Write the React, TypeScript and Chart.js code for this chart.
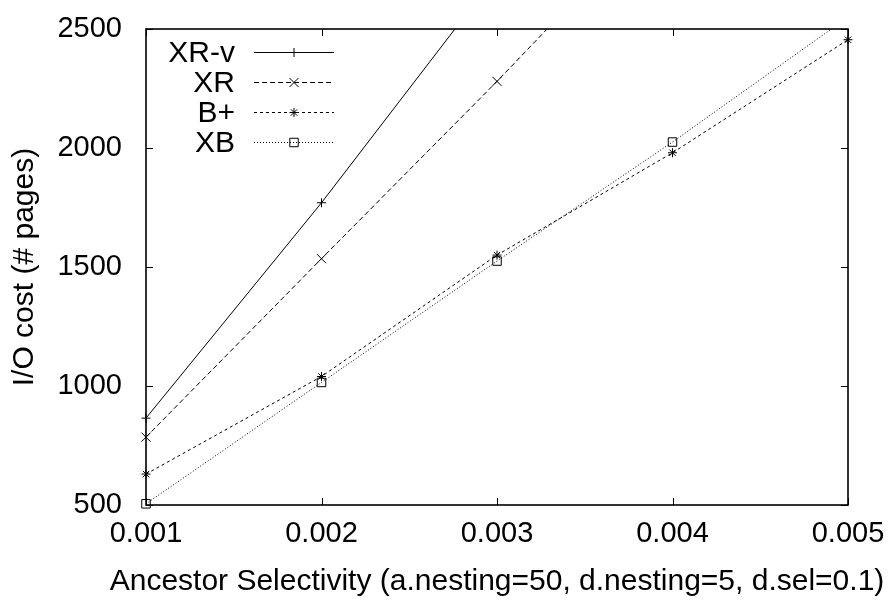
import React, { useEffect, useRef } from 'react';
import { Chart, registerables } from 'chart.js';
import { drawPoint } from 'chart.js/helpers';

Chart.register(...registerables);

// ---- data ----
const selectivity = [0.001, 0.002, 0.003, 0.004, 0.005];
const xTickLabels = ['0.001', '0.002', '0.003', '0.004', '0.005'];
const yTickValues = [500, 1000, 1500, 2000, 2500];
const seriesNames = ['XR-v', 'XR', 'B+', 'XB'];
const xrvCost = [865, 1770, 2730];
const xrCost = [785, 1535, 2280, 3050];
const bplusCost = [630, 1040, 1550, 1980, 2455];
const xbCost = [505, 1015, 1525, 2025, 2550];
const xTitle = 'Ancestor Selectivity (a.nesting=50, d.nesting=5, d.sel=0.1)';
const yTitle = 'I/O cost (# pages)';

const FONT = '"Liberation Sans", Arial, Helvetica, sans-serif';

const styles = [
  { dash: [], pointStyle: 'cross', radius: 4.5 },
  { dash: [5, 3], pointStyle: 'crossRot', radius: 6.4 },
  { dash: [3, 3], pointStyle: 'star', radius: 4.5 },
  { dash: [1, 2], pointStyle: 'rect', radius: 6 },
];

const frameAndTicks = {
  id: 'gnuplotFrame',
  beforeDatasetsDraw(chart: any) {
    const { ctx, chartArea, scales } = chart;
    const { left, right, top, bottom } = chartArea;
    const x = scales.x;
    const y = scales.y;
    const tl = 7;
    ctx.save();
    ctx.strokeStyle = '#000';
    ctx.lineWidth = 1;
    ctx.beginPath();
    x.ticks.forEach((t: any) => {
      const px = Math.round(x.getPixelForValue(t.value)) + 0.5;
      ctx.moveTo(px, bottom);
      ctx.lineTo(px, bottom - tl);
      ctx.moveTo(px, top);
      ctx.lineTo(px, top + tl);
    });
    y.ticks.forEach((t: any) => {
      const py = Math.round(y.getPixelForValue(t.value)) + 0.5;
      ctx.moveTo(left, py);
      ctx.lineTo(left + tl, py);
      ctx.moveTo(right, py);
      ctx.lineTo(right - tl, py);
    });
    ctx.stroke();
    ctx.lineWidth = 1.6;
    ctx.strokeRect(left, top, right - left, bottom - top);

    // axis titles
    ctx.fillStyle = '#000';
    ctx.font = `30px ${FONT}`;
    ctx.textAlign = 'center';
    ctx.textBaseline = 'alphabetic';
    ctx.fillText(xTitle, (left + right) / 2, bottom + 85);
    ctx.save();
    ctx.translate(25, (top + bottom) / 2);
    ctx.rotate(-Math.PI / 2);
    ctx.textBaseline = 'middle';
    ctx.fillText(yTitle, 0, 0);
    ctx.restore();
    ctx.restore();
  },
};

const gnuplotLegend = {
  id: 'gnuplotLegend',
  afterDatasetsDraw(chart: any) {
    const { ctx, chartArea } = chart;
    const textRight = chartArea.left + 89;
    const lineStart = chartArea.left + 108;
    const lineEnd = chartArea.left + 188;
    const firstRow = chartArea.top + 23;
    const rowGap = 30;
    ctx.save();
    ctx.font = `30px ${FONT}`;
    ctx.textAlign = 'right';
    ctx.textBaseline = 'middle';
    chart.data.datasets.forEach((ds: any, i: number) => {
      const yy = Math.round(firstRow + i * rowGap) + 0.5;
      ctx.fillStyle = '#000';
      ctx.fillText(ds.label, textRight, yy + 1);
      ctx.beginPath();
      ctx.setLineDash(ds.borderDash || []);
      ctx.strokeStyle = '#000';
      ctx.lineWidth = 1;
      ctx.moveTo(lineStart, yy);
      ctx.lineTo(lineEnd, yy);
      ctx.stroke();
      ctx.setLineDash([]);
      ctx.fillStyle = 'rgba(0,0,0,0)';
      ctx.strokeStyle = '#000';
      ctx.lineWidth = 1;
      drawPoint(ctx, { pointStyle: ds.pointStyle, radius: ds.pointRadius, rotation: 0, borderWidth: 1 } as any, (lineStart + lineEnd) / 2, yy);
    });
    ctx.restore();
  },
};

export default function App() {
  const canvasRef = useRef<HTMLCanvasElement | null>(null);

  useEffect(() => {
    document.body.style.margin = '0';
    const canvas = canvasRef.current;
    if (!canvas) return;
    const seriesValues = [xrvCost, xrCost, bplusCost, xbCost];
    const datasets = seriesValues.map((vals, i) => ({
      label: seriesNames[i],
      data: vals.map((v, j) => ({ x: selectivity[j], y: v })),
      borderColor: '#000',
      borderWidth: 1,
      borderDash: styles[i].dash,
      pointStyle: styles[i].pointStyle,
      pointRadius: styles[i].radius,
      pointHoverRadius: styles[i].radius,
      pointBorderColor: '#000',
      pointBackgroundColor: 'rgba(0,0,0,0)',
      pointBorderWidth: 1,
      tension: 0,
      fill: false,
      clip: { left: 12, top: 0, right: 12, bottom: 12 },
    }));

    const chart = new Chart(canvas, {
      type: 'line',
      data: { datasets },
      options: {
        animation: false,
        responsive: false,
        devicePixelRatio: 1,
        layout: { padding: 0 },
        plugins: {
          legend: { display: false },
          tooltip: { enabled: false },
        },
        scales: {
          x: {
            type: 'linear',
            min: 0.001,
            max: 0.005,
            grid: { display: false, drawTicks: false },
            border: { display: false },
            afterBuildTicks: (s: any) => {
              s.ticks = selectivity.map((v) => ({ value: v }));
            },
            afterFit: (s: any) => {
              s.height = 102;
              s.paddingLeft = 0;
              s.paddingRight = 41;
            },
            ticks: {
              autoSkip: false,
              maxRotation: 0,
              padding: 12,
              color: '#000',
              font: { family: FONT, size: 29 },
              callback: (_v: any, i: number) => xTickLabels[i],
            },
            title: { display: false },
          },
          y: {
            type: 'linear',
            min: 500,
            max: 2500,
            grid: { display: false, drawTicks: false },
            border: { display: false },
            afterBuildTicks: (s: any) => {
              s.ticks = yTickValues.map((v) => ({ value: v }));
            },
            afterFit: (s: any) => {
              s.width = 146;
              s.paddingTop = 29;
              s.paddingBottom = 0;
            },
            ticks: {
              padding: 24,
              color: '#000',
              font: { family: FONT, size: 29 },
              callback: (v: any) => String(v),
            },
            title: { display: false },
          },
        },
      } as any,
      plugins: [frameAndTicks, gnuplotLegend],
    });
    return () => chart.destroy();
  }, []);

  return <canvas ref={canvasRef} width={889} height={607} style={{ display: 'block' }} />;
}
